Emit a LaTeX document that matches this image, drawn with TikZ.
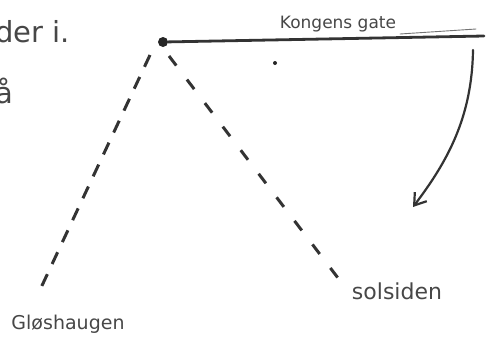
\documentclass[tikz,border=0pt]{standalone}
\usepackage{fontspec}
\setmainfont{DejaVu Sans}
\usetikzlibrary{arrows.meta}
\begin{document}
\begin{tikzpicture}[x=1pt,y=-1pt,
  pencil/.style={draw=black!80, line width=2.8pt, line cap=round},
  dashline/.style={pencil, line width=3pt, line cap=butt},
  lbl/.style={text=black!72, inner sep=0pt}]
\useasboundingbox (0,0) rectangle (493,360);
% nodes
\node[circle, fill=black!85, inner sep=0pt, minimum size=10pt] (p) at (163,42) {};
\coordinate (e) at (484,36);
\coordinate (g0) at (150,55);
\coordinate (g) at (39,292);
\coordinate (s0) at (169,56);
\coordinate (s) at (338,278);
\coordinate (a1) at (473,50);
\coordinate (a2) at (413,207);
\coordinate (f1) at (400,34);
\coordinate (f2) at (476,29);
% connectors
\draw[pencil] (p) -- (e);
\draw[pencil, line width=0.9pt, draw=black!55] (f1) -- (f2);
\draw[dashline, dash pattern=on 13pt off 11.2pt] (g0) -- (g);
\draw[dashline, dash pattern=on 12pt off 17.6pt] (s0) -- (s);
\draw[pencil, line width=2.2pt, -{Straight Barb[length=11pt, width=15pt, line width=2.2pt]}]
  (a1) .. controls (472,118) and (447,162) .. (a2);
\fill[black!85] (275,63) circle (2pt);
% labels
\node[lbl, anchor=base west, font=\fontsize{29}{34}\selectfont] (t1) at (-5,42) {der i.};
\node[lbl, anchor=base west, font=\fontsize{29}{34}\selectfont] (t2) at (-5,103) {å};
\node[lbl, font=\fontsize{17}{20}\selectfont] (kg) at (338,24) {Kongens gate};
\node[lbl, font=\fontsize{22}{26}\selectfont] (sol) at (397,291) {solsiden};
\node[lbl, font=\fontsize{19}{22}\selectfont] (glo) at (68,324) {Gløshaugen};
\end{tikzpicture}
\end{document}
